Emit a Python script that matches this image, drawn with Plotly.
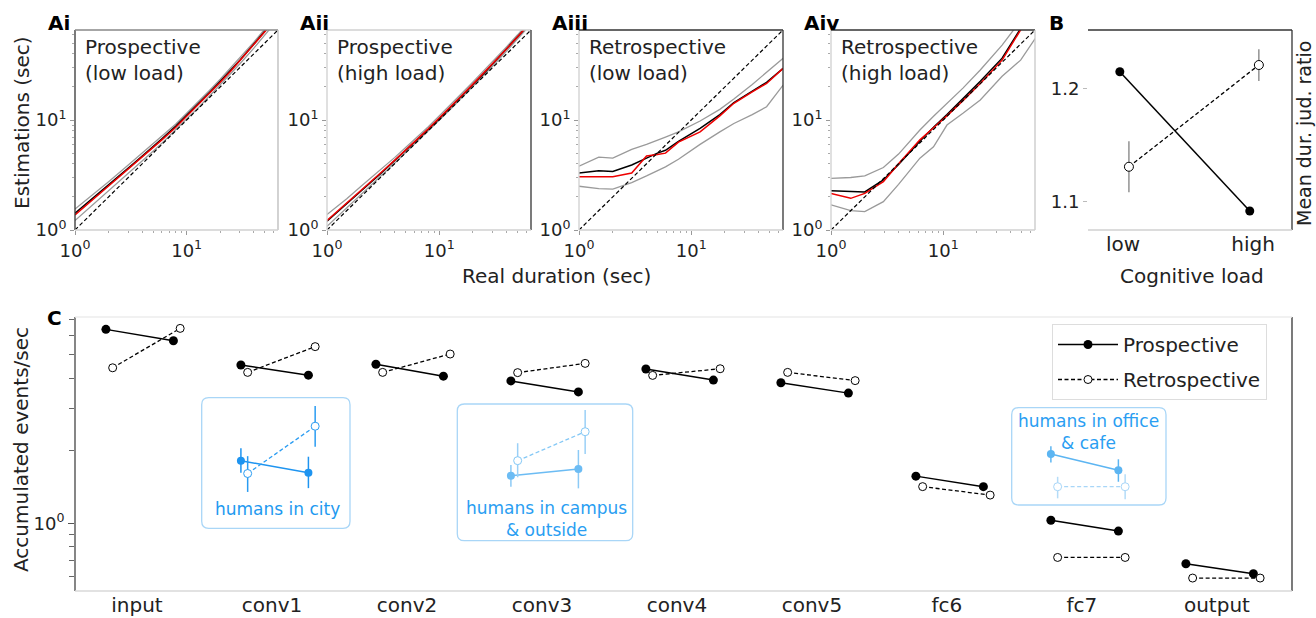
import math
import plotly.graph_objects as go

W, H = 1316, 618
FONT = "DejaVu Sans"

# ---------------- Panel A data (real duration vs estimations, seconds) ----------------
dur_prosp = [1, 1.5, 2, 3, 4, 5, 6, 8, 10, 13, 16, 20, 25, 30, 40, 50, 60, 70]
ai_red   = [1.37, 1.95, 2.5, 3.6, 4.6, 5.6, 6.6, 8.6, 10.8, 14.0, 17.5, 22.0, 28.0, 34.5, 48.0, 63.0, 78.0, 94.0]
ai_black = [1.42, 2.0, 2.55, 3.65, 4.7, 5.7, 6.75, 8.8, 11.0, 14.3, 17.8, 22.5, 28.5, 35.0, 49.0, 64.0, 80.0, 96.0]
ai_upper = [1.55, 2.15, 2.75, 3.9, 5.0, 6.05, 7.1, 9.2, 11.5, 14.9, 18.6, 23.5, 30.0, 37.0, 51.0, 67.0, 83.0, 100.0]
ai_lower = [1.22, 1.75, 2.28, 3.3, 4.25, 5.2, 6.15, 8.1, 10.2, 13.2, 16.5, 21.0, 26.5, 32.5, 45.0, 59.0, 74.0, 89.0]

aii_red   = [1.22, 1.75, 2.3, 3.3, 4.3, 5.3, 6.3, 8.3, 10.4, 13.5, 16.8, 21.2, 26.8, 32.5, 44.5, 57.0, 70.0, 84.0]
aii_black = [1.2, 1.72, 2.25, 3.25, 4.25, 5.25, 6.25, 8.25, 10.3, 13.4, 16.7, 21.0, 26.5, 32.3, 44.0, 56.5, 69.0, 83.0]
aii_upper = [1.38, 1.92, 2.48, 3.52, 4.55, 5.6, 6.6, 8.7, 10.9, 14.1, 17.6, 22.2, 28.0, 34.0, 46.5, 59.5, 73.0, 88.0]
aii_lower = [1.08, 1.58, 2.1, 3.08, 4.05, 5.02, 6.0, 7.95, 9.95, 12.9, 16.0, 20.2, 25.5, 31.0, 42.5, 54.5, 67.0, 80.0]

dur_aiii   = [1, 1.5, 2, 2.95, 4.0, 5.0, 5.9, 7.7, 12, 18, 24, 35, 47, 66]
aiii_red   = [3.05, 3.05, 3.05, 3.3, 4.7, 4.85, 5.0, 6.3, 7.8, 10.9, 14.2, 18.0, 21.5, 29.5]
aiii_black = [3.3, 3.45, 3.4, 3.9, 4.5, 5.0, 5.3, 6.4, 8.4, 11.2, 14.4, 18.3, 22.0, 29.5]
aiii_upper = [3.8, 4.6, 4.5, 5.4, 6.0, 6.5, 7.0, 7.8, 9.8, 12.5, 15.5, 21.0, 27.0, 36.5]
aiii_lower = [2.5, 2.38, 2.35, 2.7, 3.1, 3.45, 3.75, 4.4, 6.0, 7.8, 9.3, 11.2, 13.2, 20.8]

dur_aiv   = [1, 1.5, 2, 2.93, 4, 6.2, 8.2, 10.8, 15, 21.4, 33.5, 49, 66]
aiv_red   = [2.15, 1.94, 2.15, 2.75, 4.0, 6.6, 8.5, 10.9, 15.0, 21.5, 35.0, 66.0, 90.0]
aiv_black = [2.28, 2.25, 2.22, 2.85, 3.95, 6.4, 8.6, 11.2, 15.5, 22.5, 36.5, 68.0, 92.0]
aiv_upper = [2.95, 3.0, 3.1, 3.7, 4.9, 8.1, 10.8, 14.2, 19.5, 28.5, 48.0, 80.0, 110.0]
aiv_lower = [1.69, 1.5, 1.47, 1.81, 2.6, 4.5, 5.7, 9.0, 11.5, 15.2, 25.0, 35.0, 55.0]

identity = [1, 70]

a_titles = ["Prospective<br>(low load)", "Prospective<br>(high load)",
            "Retrospective<br>(low load)", "Retrospective<br>(high load)"]
a_labels = ["Ai", "Aii", "Aiii", "Aiv"]

# ---------------- Panel B data ----------------
load_labels = ["low", "high"]
b_pros = [1.2147, 1.0918]
b_pros_err = [0.002, 0.002]
b_retro = [1.1308, 1.2206]
b_retro_err = [0.0225, 0.014]

# ---------------- Panel C data ----------------
layers = ["input", "conv1", "conv2", "conv3", "conv4", "conv5", "fc6", "fc7", "output"]
pros_low   = [6.38, 4.54, 4.57, 3.90, 4.37, 3.83, 1.57, 1.03, 0.68]
pros_high  = [5.72, 4.12, 4.08, 3.51, 3.93, 3.47, 1.42, 0.929, 0.618]
retro_low  = [4.42, 4.23, 4.23, 4.22, 4.11, 4.23, 1.42, 0.722, 0.593]
retro_high = [6.44, 5.41, 5.04, 4.61, 4.38, 3.91, 1.31, 0.722, 0.593]

inset_layer = ["conv1", "conv3", "fc7"]
inset_text = ["humans in city", "humans in campus<br>& outside", "humans in office<br>& cafe"]
ins_pros_low    = [1.82, 1.576, 1.94]
ins_pros_low_lo = [1.62, 1.419, 1.79]
ins_pros_low_hi = [2.05, 1.746, 2.09]
ins_pros_high    = [1.62, 1.68, 1.66]
ins_pros_high_lo = [1.40, 1.397, 1.488]
ins_pros_high_hi = [1.89, 2.015, 1.844]
ins_retro_low    = [1.61, 1.82, 1.419]
ins_retro_low_lo = [1.35, 1.553, 1.27]
ins_retro_low_hi = [1.90, 2.15, 1.56]
ins_retro_high    = [2.53, 2.40, 1.419]
ins_retro_high_lo = [2.08, 1.94, 1.26]
ins_retro_high_hi = [3.07, 2.95, 1.60]

# ---------------- styling ----------------
def px(x):
    return x / W

def py(y):
    return 1 - y / H

GRAY = "#9a9a9a"
DARK = "#333333"
MID = "#888888"
LIGHT = "#d0d0d0"

fig = go.Figure()

a_xdom = [(75, 278), (327, 531), (579, 783), (831, 1035)]
a_series = [
    (dur_prosp, ai_red, ai_black, ai_upper, ai_lower),
    (dur_prosp, aii_red, aii_black, aii_upper, aii_lower),
    (dur_aiii, aiii_red, aiii_black, aiii_upper, aiii_lower),
    (dur_aiv, aiv_red, aiv_black, aiv_upper, aiv_lower),
]
a_spines = [
    dict(l=DARK, t=MID, r="#bbbbbb", b=LIGHT),
    dict(l=LIGHT, t=LIGHT, r=DARK, b=LIGHT),
    dict(l=LIGHT, t=DARK, r=DARK, b=LIGHT),
    dict(l=LIGHT, t=DARK, r="#c8c8c8", b=LIGHT),
]

shapes = []
annotations = []

def note(text, x, y, size=20, color="#222", angle=0, xanchor="center", yanchor="middle", align="center"):
    annotations.append(dict(text=text, xref="paper", yref="paper", x=px(x), y=py(y),
                            xanchor=xanchor, yanchor=yanchor, align=align, textangle=angle,
                            showarrow=False, font=dict(size=size, color=color)))

def spines(xa, ya, cols):
    xr = f"{xa} domain"
    yr = f"{ya} domain"
    segs = {"l": (0, 0, 0, 1), "r": (1, 0, 1, 1), "t": (0, 1, 1, 1), "b": (0, 0, 1, 0)}
    for k, c in cols.items():
        x0, y0, x1, y1 = segs[k]
        shapes.append(dict(type="line", xref=xr, yref=yr, x0=x0, y0=y0, x1=x1, y1=y1,
                           line=dict(color=c, width=1.3), layer="above"))

log_top = math.log10(65.8)
minor_a = [2, 3, 4, 5, 6, 7, 8, 9, 20, 30, 40, 50, 60]

for i in range(4):
    n = i + 1
    xa = "x" if n == 1 else f"x{n}"
    ya = "y" if n == 1 else f"y{n}"
    dur, red, black, up, lo = a_series[i]
    for yy in (up, lo):
        fig.add_trace(go.Scatter(x=dur, y=yy, mode="lines", line=dict(color=GRAY, width=1.3),
                                 xaxis=xa, yaxis=ya, showlegend=False, hoverinfo="skip"))
    fig.add_trace(go.Scatter(x=dur, y=black, mode="lines", line=dict(color="black", width=1.5),
                             xaxis=xa, yaxis=ya, showlegend=False))
    fig.add_trace(go.Scatter(x=dur, y=red, mode="lines", line=dict(color="#ee0000", width=1.5),
                             xaxis=xa, yaxis=ya, showlegend=False))
    fig.add_trace(go.Scatter(x=identity, y=identity, mode="lines",
                             line=dict(color="black", width=1.2, dash="4px,2.5px"),
                             xaxis=xa, yaxis=ya, showlegend=False))
    x0, x1 = a_xdom[i]
    axkw = dict(type="log", range=[0, log_top], showgrid=False, zeroline=False, showline=False,
                automargin=False,
                tickvals=[1, 10], ticktext=["10<sup>0</sup>", "10<sup>1</sup>"],
                ticks="outside", ticklen=4, tickcolor="#999", tickfont=dict(size=18, color="#222"),
                minor=dict(tickvals=minor_a, ticks="outside", ticklen=2, tickcolor="#aaa"))
    fig.layout[f"xaxis{'' if n == 1 else n}"] = dict(domain=[px(x0), px(x1)], anchor=ya, **axkw)
    fig.layout[f"yaxis{'' if n == 1 else n}"] = dict(domain=[py(230), py(30)], anchor=xa, **axkw)
    spines(xa, ya, a_spines[i])
    note(f"<b>{a_labels[i]}</b>", x0 - 29, 23, color="black", xanchor="left")
    note(a_titles[i], x0 + 8, 33, xanchor="left", yanchor="top", align="left")

# ---------------- Panel B ----------------
pos = [0, 1]
fig.add_trace(go.Scatter(x=[p - 0.025 for p in pos], y=b_pros, mode="lines+markers",
                         line=dict(color="black", width=1.5),
                         marker=dict(color="black", size=9),
                         error_y=dict(type="data", array=b_pros_err, color="#888", thickness=1.2, width=0),
                         xaxis="x5", yaxis="y5", showlegend=False))
fig.add_trace(go.Scatter(x=[p + 0.045 for p in pos], y=b_retro, mode="lines+markers",
                         line=dict(color="black", width=1.3, dash="4px,2.5px"),
                         marker=dict(color="white", size=9, line=dict(color="black", width=1)),
                         error_y=dict(type="data", array=b_retro_err, color="#777", thickness=1.2, width=0),
                         xaxis="x5", yaxis="y5", showlegend=False))
fig.layout["xaxis5"] = dict(domain=[px(1088), px(1292)], anchor="y5", range=[-0.27, 1.30],
                            tickvals=pos, ticktext=load_labels, ticks="", showgrid=False,
                            automargin=False,
                            zeroline=False, showline=False, tickfont=dict(size=20, color="#222"))
fig.layout["yaxis5"] = dict(domain=[py(230), py(30)], anchor="x5", range=[1.075, 1.2515],
                            tickvals=[1.1, 1.2], ticktext=["1.1", "1.2"], ticks="outside", ticklen=4,
                            automargin=False,
                            tickcolor="#bbb", showgrid=False, zeroline=False, showline=False,
                            tickfont=dict(size=18, color="#222"))
spines("x5", "y5", dict(t=DARK, r=DARK, b=LIGHT))
note("<b>B</b>", 1047, 23, color="black", xanchor="left")

# ---------------- Panel C ----------------
LO_P, HI_P, LO_R, HI_R = -0.23, 0.27, -0.18, 0.32

def segs(lows, highs, dl, dh, idxs):
    xs, ys = [], []
    for k, i in enumerate(idxs):
        xs += [i + dl, i + dh, None]
        ys += [lows[k], highs[k], None]
    return xs, ys

idx_all = list(range(len(layers)))
xs, ys = segs(pros_low, pros_high, LO_P, HI_P, idx_all)
fig.add_trace(go.Scatter(x=xs, y=ys, mode="lines+markers", name="Prospective",
                         line=dict(color="black", width=1.5),
                         marker=dict(color="black", size=9),
                         xaxis="x6", yaxis="y6", legendgroup="p", showlegend=True))
xs, ys = segs(retro_low, retro_high, LO_R, HI_R, idx_all)
fig.add_trace(go.Scatter(x=xs, y=ys, mode="lines+markers", name="Retrospective",
                         line=dict(color="black", width=1.3, dash="4px,2.5px"),
                         marker=dict(color="white", size=8, line=dict(color="black", width=1)),
                         xaxis="x6", yaxis="y6", legendgroup="r", showlegend=True))

ins_cols = [
    dict(p="#1e94f0", r="#2a9cf2", pe="#1e94f0", re="#2a9cf2", txt="#1e9af0"),
    dict(p="#6cbcf4", r="#84c8f6", pe="#8ccaf6", re="#9ad0f7", txt="#2a9ef2"),
    dict(p="#5cb5f2", r="#a8d6f8", pe="#5cb5f2", re="#b4dcf8", txt="#2a9ef2"),
]
ins_boxes = [(201.7, 350, 397.7, 528.3), (457.3, 632.7, 404, 540.7), (1011.7, 1166, 407.7, 505)]
ins_text_pos = [(277.7, 509.3), (546, 518.8), (1088.3, 432.2)]

for k, lname in enumerate(inset_layer):
    i = layers.index(lname)
    c = ins_cols[k]
    yp = [ins_pros_low[k], ins_pros_high[k]]
    yr = [ins_retro_low[k], ins_retro_high[k]]
    ep = [ins_pros_low_hi[k] - yp[0], ins_pros_high_hi[k] - yp[1]]
    epm = [yp[0] - ins_pros_low_lo[k], yp[1] - ins_pros_high_lo[k]]
    er = [ins_retro_low_hi[k] - yr[0], ins_retro_high_hi[k] - yr[1]]
    erm = [yr[0] - ins_retro_low_lo[k], yr[1] - ins_retro_high_lo[k]]
    fig.add_trace(go.Scatter(x=[i + LO_P, i + HI_P], y=yp, mode="lines+markers",
                             line=dict(color=c["p"], width=1.5), marker=dict(color=c["p"], size=8),
                             error_y=dict(type="data", array=ep, arrayminus=epm, color=c["pe"],
                                          thickness=1.5, width=0),
                             xaxis="x6", yaxis="y6", showlegend=False))
    fig.add_trace(go.Scatter(x=[i + LO_R, i + HI_R], y=yr, mode="lines+markers",
                             line=dict(color=c["r"], width=1.3, dash="4px,2.5px"),
                             marker=dict(color="white", size=8, line=dict(color=c["r"], width=1)),
                             error_y=dict(type="data", array=er, arrayminus=erm, color=c["re"],
                                          thickness=1.5, width=0),
                             xaxis="x6", yaxis="y6", showlegend=False))
    bx0, bx1, by0, by1 = ins_boxes[k]
    X0, X1, Y0, Y1 = px(bx0), px(bx1), py(by1), py(by0)
    rx, ry = 7 / W, 7 / H
    path = (f"M {X0+rx},{Y0} L {X1-rx},{Y0} Q {X1},{Y0} {X1},{Y0+ry} L {X1},{Y1-ry} "
            f"Q {X1},{Y1} {X1-rx},{Y1} L {X0+rx},{Y1} Q {X0},{Y1} {X0},{Y1-ry} "
            f"L {X0},{Y0+ry} Q {X0},{Y0} {X0+rx},{Y0} Z")
    shapes.append(dict(type="path", xref="paper", yref="paper", path=path,
                       line=dict(color="#a9d6f7", width=1.3), layer="above"))
    tx, ty = ins_text_pos[k]
    note(inset_text[k], tx, ty, size=17, color=c["txt"])

fig.layout["xaxis6"] = dict(domain=[px(75), px(1292)], anchor="y6", range=[-0.459, 8.556],
                            tickvals=idx_all, ticktext=layers, ticks="", showgrid=False,
                            automargin=False,
                            zeroline=False, showline=False, tickfont=dict(size=20, color="#222"))
fig.layout["yaxis6"] = dict(domain=[py(591), py(317)], anchor="x6", type="log",
                            range=[math.log10(0.524), math.log10(7.18)],
                            automargin=False,
                            tickvals=[1], ticktext=["10<sup>0</sup>"], ticks="outside", ticklen=6,
                            tickcolor="#555", showgrid=False, zeroline=False, showline=False,
                            tickfont=dict(size=18, color="#222"),
                            minor=dict(tickvals=[0.6, 0.7, 0.8, 0.9, 2, 3, 4, 5, 6, 7],
                                       ticks="outside", ticklen=5, tickcolor="#666"))
spines("x6", "y6", dict(l="#444", r="#333", t="#ececec", b="#d8d8d8"))
note("<b>C</b>", 45, 318, color="black", xanchor="left")

# ---------------- axis titles ----------------
note("Estimations (sec)", 22, 123, angle=-90)
note("Real duration (sec)", 556, 276)
note("Cognitive load", 1192, 276)
note("Mean dur. jud. ratio", 1304, 134, size=19, angle=-90)
note("Accumulated events/sec", 21, 450, angle=-90)

fig.update_layout(
    width=W, height=H, margin=dict(l=0, r=0, t=0, b=0, autoexpand=False),
    paper_bgcolor="white", plot_bgcolor="white",
    font=dict(family=FONT, size=18, color="#222"),
    shapes=shapes, annotations=annotations,
    legend=dict(x=px(1052), y=py(324), xanchor="left", yanchor="top",
                bgcolor="white", bordercolor="#dddddd", borderwidth=1,
                font=dict(size=20, color="#222"), itemwidth=60, tracegroupgap=6),
)

fig.write_html("out.html", config={"displayModeBar": False},
               post_script="document.body.style.margin='0';document.body.style.padding='0';")
